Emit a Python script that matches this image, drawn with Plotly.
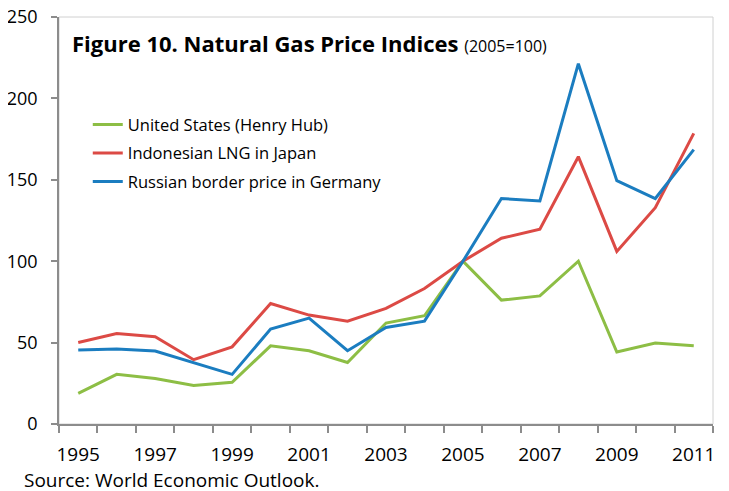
import plotly.graph_objects as go

years = list(range(1995, 2012))
us_henry_hub = [18.8, 30.5, 28.0, 23.7, 25.6, 48.0, 45.0, 37.8, 62.0, 66.5, 100.0, 76.1, 78.7, 100.0, 44.2, 49.7, 48.0]
indonesia_lng = [50.1, 55.6, 53.6, 39.5, 47.4, 74.0, 66.9, 63.2, 71.0, 83.2, 100.0, 114.1, 119.6, 164.2, 106.0, 132.9, 178.5]
russia_border = [45.4, 46.0, 44.8, 37.8, 30.5, 58.3, 65.0, 45.0, 59.3, 63.2, 100.0, 138.5, 137.0, 221.3, 149.5, 138.5, 168.5]
series_names = ["United States (Henry Hub)", "Indonesian LNG in Japan", "Russian border price in Germany"]
colors = ["#8DBE45", "#DC4A45", "#1B7DC0"]
x_labels = [str(y) for y in range(1995, 2012, 2)]
y_ticks = [0, 50, 100, 150, 200, 250]

FONT = "Open Sans"
fig = go.Figure()
for i, (name, vals, c) in enumerate(zip(series_names, [us_henry_hub, indonesia_lng, russia_border], colors)):
    fig.add_trace(go.Scatter(x=years, y=vals, name=name, mode="lines", legendgroup=f"g{i}",
                             line=dict(color=c, width=3)))

fig.update_layout(
    width=729, height=491,
    margin=dict(l=51, r=24, t=9, b=75),
    paper_bgcolor="white", plot_bgcolor="white",
    font=dict(family=FONT, size=18, color="black"),
    showlegend=True,
    legend=dict(x=0.044, y=0.778, xanchor="left", yanchor="top",
                font=dict(family=FONT, size=16.5, color="black"),
                bgcolor="rgba(0,0,0,0)", tracegroupgap=4, itemwidth=30),
    xaxis=dict(range=[1994.5, 2011.5], tickmode="array", automargin=False,
               tickvals=[int(v) for v in x_labels], ticktext=x_labels,
               ticks="", showgrid=False, zeroline=False, ticklabeloverflow="allow",
               showline=True, linecolor="#8C8C8C", linewidth=1.5,
               tickfont=dict(family=FONT, size=19), ticklabelstandoff=12,
               minor=dict(tickmode="array", tickvals=[1994.5 + i for i in range(18)],
                          ticks="outside", ticklen=7, tickcolor="#8C8C8C", tickwidth=1.5,
                          showgrid=False)),
    yaxis=dict(range=[0, 250], tickmode="array", tickvals=y_ticks, automargin=False,
               ticks="outside", ticklen=6, tickcolor="#8C8C8C", tickwidth=1.5,
               showgrid=False, zeroline=False, ticklabeloverflow="allow",
               showline=True, linecolor="#8C8C8C", linewidth=1.5,
               tickfont=dict(family=FONT, size=18), ticklabelstandoff=10),
)
fig.add_shape(type="rect", xref="x domain", yref="y domain", x0=0, x1=1, y0=0, y1=1,
              line=dict(color="#D0D0D0", width=1), layer="below")
fig.add_annotation(xref="paper", yref="paper", x=0.0168, y=0.937, xanchor="left", yanchor="middle",
                   showarrow=False,
                   text="<b>Figure 10. Natural Gas Price Indices</b> <span style='font-size:16px'>(2005=100)</span>",
                   font=dict(family=FONT, size=22, color="black"))
fig.add_annotation(xref="paper", yref="paper", x=-0.0566, y=-0.1375, xanchor="left", yanchor="middle",
                   showarrow=False, text="Source: World Economic Outlook.",
                   font=dict(family=FONT, size=19, color="black"))
fig.write_html("out.html")
